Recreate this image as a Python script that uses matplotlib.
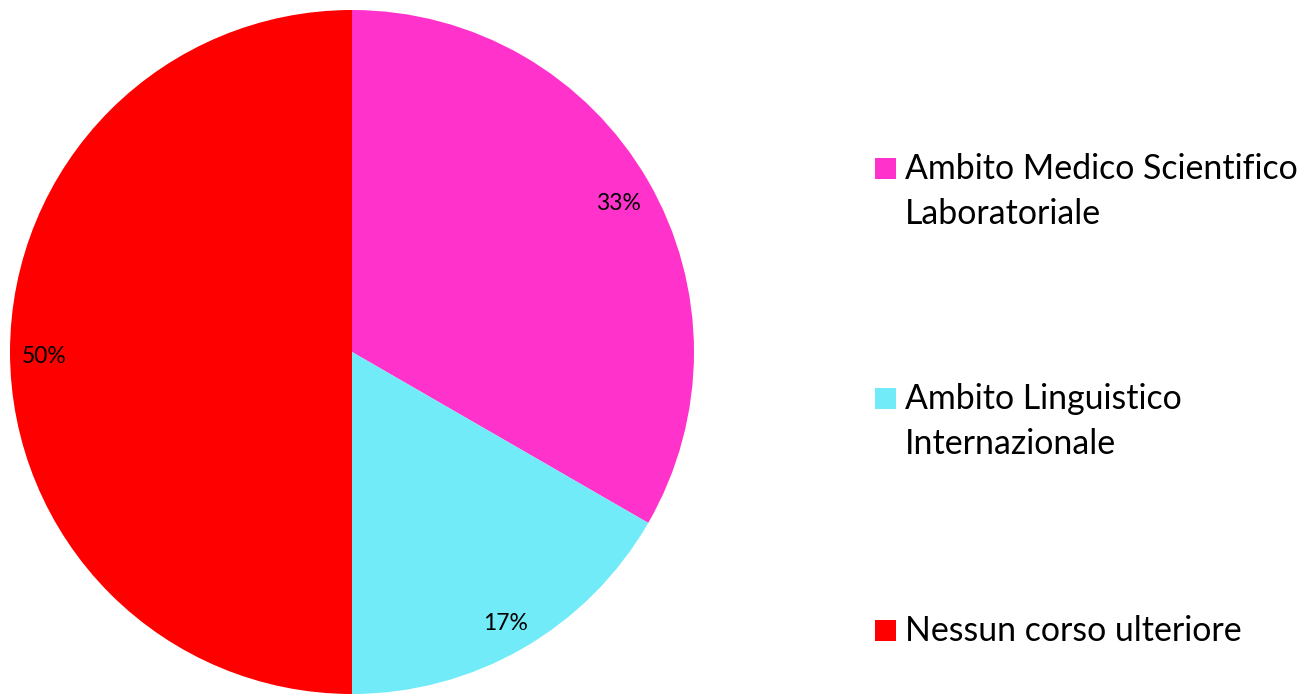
import matplotlib.pyplot as plt
import matplotlib.transforms as mtransforms
from matplotlib.patches import Rectangle

categories = ['Ambito Medico Scientifico\nLaboratoriale',
              'Ambito Linguistico\nInternazionale',
              'Nessun corso ulteriore']
values = [33.33, 16.67, 50.0]
colors = ['#FF33CC', '#70EBF7', '#FF0000']

plt.rcParams['font.family'] = ['Lato', 'DejaVu Sans']

W, H = 1309, 695
fig = plt.figure(figsize=(W / 100, H / 100), dpi=100)

# pie axes: center (352, 352) px, radius 342 px
cx, cy, r = 352, 352, 342
ax = fig.add_axes([(cx - r) / W, (H - cy - r) / H, 2 * r / W, 2 * r / H])
wedges, texts, autotexts = ax.pie(values, colors=colors, startangle=90, counterclock=False,
                                  autopct='%1.0f%%', pctdistance=0.9,
                                  textprops={'fontsize': 16.5, 'color': 'black'})
# labels sit a few pixels lower in the original
shift = mtransforms.ScaledTranslation(0, -5 / 100, fig.dpi_scale_trans)
for t in autotexts:
    t.set_transform(t.get_transform() + shift)
ax.set_xlim(-1, 1)
ax.set_ylim(-1, 1)
ax.set_aspect('equal')

# legend drawn by hand to match the layout
first_line_y = [169, 399, 631]
line_gap = 45
for cat, col, y in zip(categories, colors, first_line_y):
    fig.patches.append(Rectangle((875 / W, 1 - (y + 10) / H), 21 / W, 21 / H,
                                 transform=fig.transFigure, facecolor=col, edgecolor='none'))
    for i, line in enumerate(cat.split('\n')):
        fig.text(905 / W, 1 - (y + i * line_gap) / H, line, fontsize=24.4,
                 va='center', ha='left', color='black')

fig.savefig('out.png', dpi=100)
